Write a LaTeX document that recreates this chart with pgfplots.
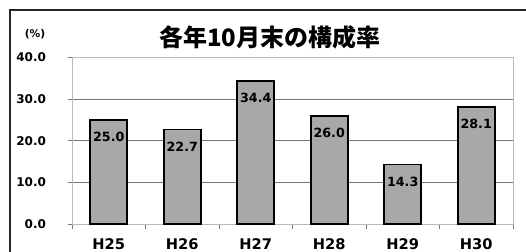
\documentclass[border=0pt]{standalone}
\usepackage{pgfplots}
\pgfplotsset{compat=1.18}
\usetikzlibrary{calc}
\usepackage{fontspec}
\setmainfont{DejaVu Sans}
\newfontfamily\cjk{Noto Sans CJK JP}
\definecolor{barfill}{RGB}{168,168,168}
\definecolor{gridc}{RGB}{120,120,120}
\definecolor{boxc}{RGB}{185,185,185}
\begin{document}
\begin{tikzpicture}
\begin{axis}[
  name=ax,
  scale only axis, width=441*0.75pt, height=166.5*0.75pt,
  xmin=-0.5, xmax=5.5, ymin=0, ymax=40,
  xtick={0,...,5}, xticklabels={H25,H26,H27,H28,H29,H30},
  minor xtick={-0.5,0.5,...,5.5},
  ytick={0,10,...,40},
  axis line style={boxc, line width=0.6pt},
  major x tick style={draw=none},
  minor x tick style={gridc, line width=0.6pt},
  minor tick length=4pt,
  major y tick style={gridc, line width=0.6pt},
  major tick length=3pt,
  tick align=outside, xtick pos=bottom, ytick pos=left,
  ymajorgrids, grid style={gridc, line width=0.7pt},
  /pgf/number format/assume math mode=true,
  /pgf/number format/.cd, fixed, fixed zerofill, precision=1, /pgfplots/.cd,
  yticklabel style={font=\bfseries\fontsize{9}{10}\selectfont, xshift=-13pt},
  xticklabel style={font=\bfseries\fontsize{11}{12}\selectfont, inner sep=1pt, yshift=-6.5pt},
  ybar, bar width=27.75pt,
  nodes near coords,
  every node near coord/.append style={font=\bfseries\fontsize{9.5}{11}\selectfont, anchor=center, yshift=-12.75pt,
    /pgf/number format/fixed, /pgf/number format/fixed zerofill, /pgf/number format/precision=1},
  clip=false,
]
\addplot[fill=barfill, draw=black, line width=1.3pt] coordinates {(0,25.0) (1,22.7) (2,34.4) (3,26.0) (4,14.3) (5,28.1)};
\end{axis}
\begin{scope}[x=0.75pt,y=0.75pt, shift={($(ax.south west)+(-54pt,-21pt)$)}]
\pgfresetboundingbox
\useasboundingbox (0,0) rectangle (526,252);
\draw[line width=1.6pt,color=black!85] (10,0) -- (10,242) -- (526,242);
\node[font=\cjk\bfseries\fontsize{18}{20}\selectfont] at (270,215) {各年10月末の構成率};
\node[font=\bfseries\fontsize{8}{9}\selectfont] at (35,218) {(\%)};
\end{scope}
\end{tikzpicture}
\end{document}
